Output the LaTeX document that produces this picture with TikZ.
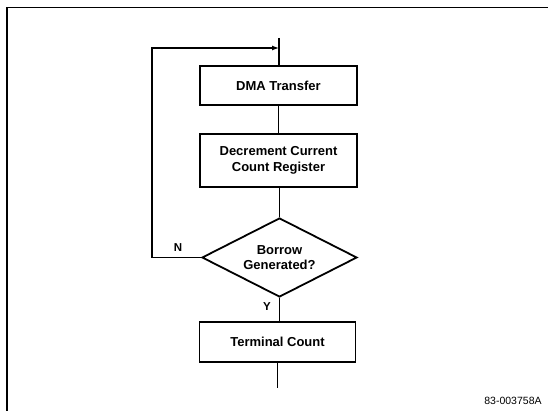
\documentclass[tikz,border=0pt]{standalone}
\usepackage{fontspec}
\setmainfont{Liberation Sans}
\usetikzlibrary{shapes.geometric,arrows.meta}
\begin{document}
\begin{tikzpicture}[x=1pt,y=-1pt,
  txt/.style={font=\bfseries\fontsize{13}{15.5}\selectfont},
  box/.style={draw,line width=1.8pt,inner sep=0pt,align=center,txt},
  dia/.style={draw,line width=1.8pt,diamond,aspect=2,inner sep=0pt,align=center,txt},
  conn/.style={line width=1.2pt},
  lbl/.style={font=\bfseries\fontsize{11.5}{13}\selectfont,inner sep=0pt}]
\useasboundingbox (0,0) rectangle (548,411);
\draw[line width=1.4pt] (7,411) -- (7,7.5) -- (548,7.5);
\node[box,minimum width=157pt,minimum height=39pt] (dma) at (278.5,85.5) {DMA Transfer};
\node[box,minimum width=157pt,minimum height=53pt] (dec) at (278.5,160.5) {Decrement Current\\Count Register};
\node[dia,minimum width=155pt,minimum height=79pt] (bor) at (279.5,257.5) {Borrow\\Generated?};
\node[box,minimum width=156pt,minimum height=40pt] (term) at (277.5,342) {Terminal Count};
\coordinate (top) at (279,38);
\coordinate (entry) at (279,48);
\coordinate (lp1) at (152,257.5);
\coordinate (lp2) at (152,48);
\coordinate (bot) at (277.5,388);
\draw[conn] (top) -- (dma.north -| top);
\draw[conn] (dma.south) -- (dec.north);
\draw[conn] (dec.south -| bor.north) -- (bor.north);
\draw[conn] (bor.south) -- (term.north -| bor.south);
\draw[conn] (term.south) -- (bot);
\draw[conn,-{Latex[length=7pt,width=5pt]}] (bor.west) -- (lp1) -- (lp2) -- (entry);
\node[lbl] (n) at (178,248) {N};
\node[lbl] (y) at (267,307) {Y};
\node[font=\fontsize{10.5}{12}\selectfont,inner sep=0pt] (id) at (513,401) {83-003758A};
\end{tikzpicture}
\end{document}
